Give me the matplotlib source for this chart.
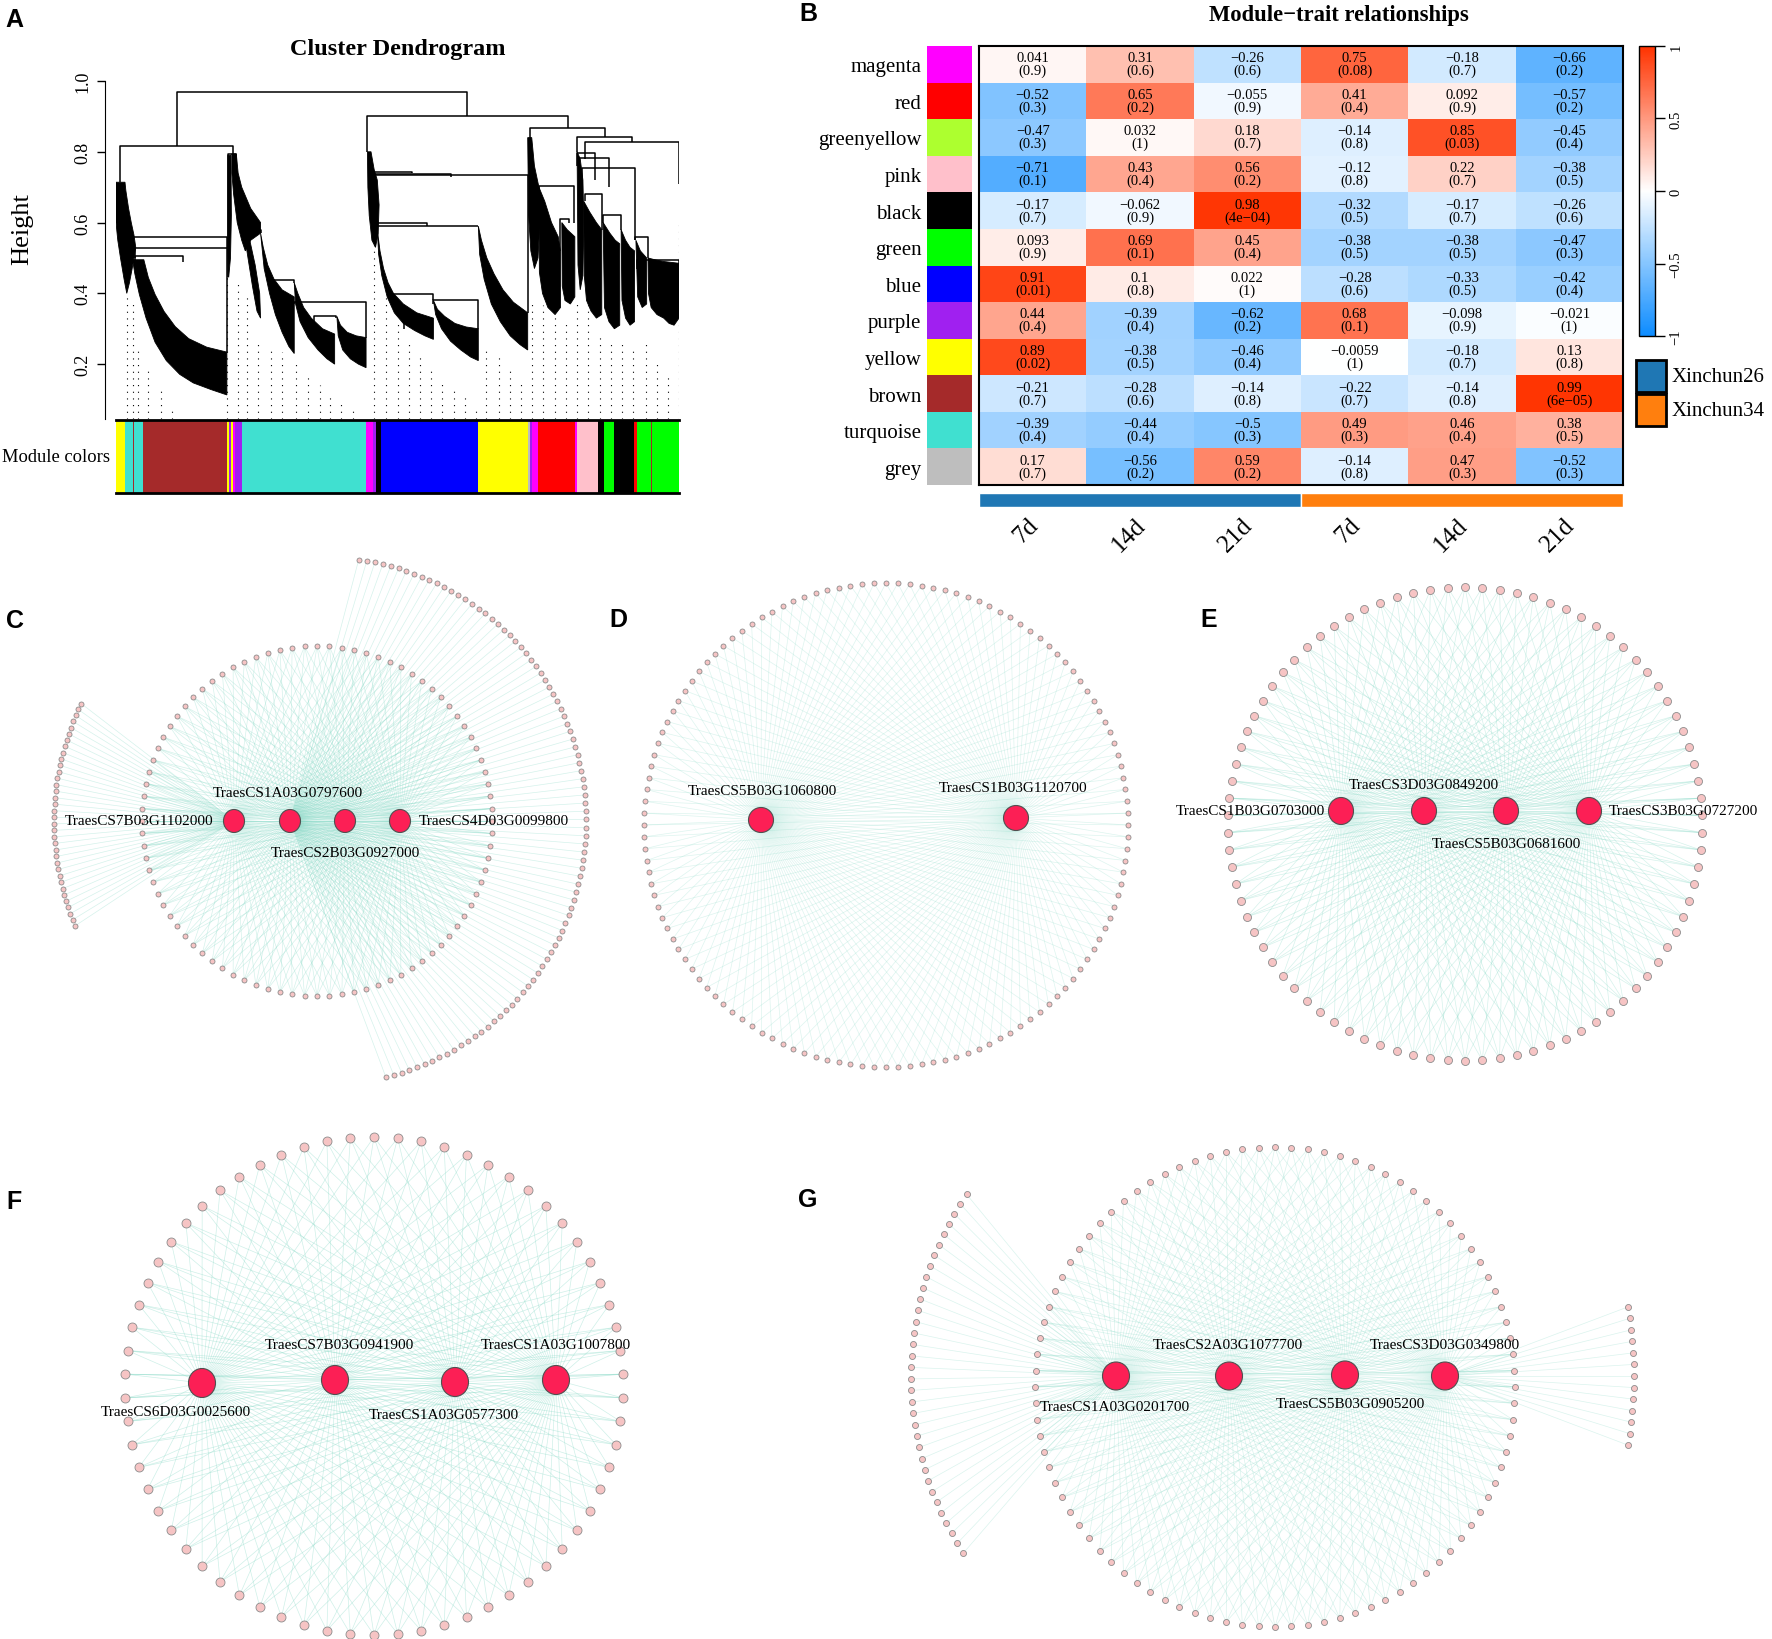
import numpy as np
import matplotlib
matplotlib.use("Agg")
import matplotlib.pyplot as plt
from matplotlib.patches import Polygon, Ellipse, Rectangle
from matplotlib.collections import LineCollection
from matplotlib.colors import LinearSegmentedColormap

plt.rcParams['font.family'] = ['Liberation Serif', 'DejaVu Serif']

# ---------------- A: cluster dendrogram (leaf index 0..1254, height) ----------------
n_leaves = 1254
# (left leaf, right leaf, merge height, left child height, right child height)
tree_links = [
    (135, 782, 0.969, 0.815, 0.902),
    (10, 260, 0.815, 0.714, 0.794),
    (560, 1007, 0.902, 0.80, 0.866),
    (922, 1089, 0.866, 0.84, 0.842),
    (1027, 1150, 0.842, 0.80, 0.828),
    (1044, 1254, 0.828, 0.78, 0.71),
    (250, 268, 0.794, 0.445, 0.76),
    (32, 247, 0.559, 0.54, 0.527),
    (42, 247, 0.527, 0.50, 0.234),
    (42, 150, 0.506, 0.49, 0.49),
    (287, 322, 0.58, 0.56, 0.57),
    (347, 397, 0.437, 0.42, 0.43),
    (397, 557, 0.375, 0.37, 0.275),
    (442, 490, 0.335, 0.32, 0.33),
    (572, 660, 0.744, 0.73, 0.74),
    (572, 747, 0.737, 0.73, 0.73),
    (572, 917, 0.734, 0.72, 0.345),
    (580, 692, 0.60, 0.58, 0.59),
    (580, 807, 0.59, 0.58, 0.59),
    (612, 707, 0.397, 0.39, 0.38),
    (707, 807, 0.38, 0.37, 0.30),
    (642, 677, 0.315, 0.30, 0.30),
    (942, 1020, 0.703, 0.68, 0.60),
    (990, 1010, 0.61, 0.52, 0.60),
    (1027, 1067, 0.796, 0.76, 0.72),
    (1032, 1099, 0.782, 0.74, 0.70),
    (1039, 1157, 0.753, 0.70, 0.55),
    (1044, 1082, 0.68, 0.66, 0.58),
    (1085, 1125, 0.62, 0.60, 0.58),
    (1157, 1185, 0.56, 0.55, 0.50),
    (1160, 1254, 0.493, 0.47, 0.48),
]
# outlines of the dense leaf fans
tree_fans = [
    [(0, 0.714), (20, 0.714), (22, 0.69), (28, 0.64), (34, 0.60), (40, 0.565), (44, 0.53),
     (36, 0.47), (30, 0.43), (24, 0.40), (18, 0.44), (10, 0.50), (4, 0.55), (0, 0.60)],
    [(37, 0.495), (62, 0.495), (72, 0.445), (87, 0.397), (107, 0.349), (132, 0.306), (162, 0.272),
     (202, 0.248), (247, 0.234), (247, 0.113), (212, 0.128), (172, 0.147), (142, 0.171),
     (112, 0.210), (87, 0.262), (67, 0.330), (52, 0.397), (42, 0.455)],
    [(249, 0.79), (256, 0.79), (257, 0.62), (255, 0.50), (251, 0.445), (249, 0.52)],
    [(258, 0.794), (268, 0.794), (272, 0.74), (280, 0.70), (290, 0.67), (300, 0.64), (322, 0.60),
     (322, 0.57), (300, 0.55), (288, 0.52), (280, 0.55), (270, 0.60), (262, 0.68), (258, 0.74)],
    [(288, 0.55), (298, 0.55), (310, 0.48), (320, 0.40), (322, 0.33), (314, 0.35), (304, 0.42), (294, 0.50)],
    [(322, 0.57), (328, 0.53), (338, 0.48), (352, 0.44), (370, 0.41), (397, 0.39), (397, 0.23),
     (385, 0.25), (370, 0.29), (355, 0.34), (342, 0.40), (330, 0.47)],
    [(397, 0.43), (405, 0.40), (418, 0.36), (435, 0.33), (460, 0.30), (487, 0.285), (487, 0.20),
     (470, 0.215), (450, 0.24), (428, 0.275), (410, 0.32), (400, 0.37)],
    [(492, 0.335), (500, 0.31), (515, 0.29), (535, 0.28), (557, 0.275), (557, 0.19), (540, 0.20),
     (522, 0.215), (505, 0.24), (495, 0.28)],
    [(560, 0.80), (568, 0.80), (575, 0.75), (582, 0.72), (586, 0.65), (584, 0.57), (578, 0.53),
     (570, 0.55), (564, 0.62), (561, 0.70)],
    [(582, 0.58), (588, 0.52), (596, 0.47), (606, 0.43), (618, 0.40), (640, 0.37), (670, 0.345),
     (707, 0.33), (707, 0.27), (688, 0.28), (665, 0.295), (640, 0.315), (620, 0.345), (604, 0.39),
     (592, 0.45), (585, 0.51)],
    [(707, 0.38), (716, 0.355), (732, 0.335), (755, 0.315), (780, 0.305), (807, 0.30), (807, 0.21),
     (790, 0.22), (768, 0.24), (745, 0.265), (725, 0.30), (712, 0.34)],
    [(807, 0.59), (814, 0.55), (826, 0.50), (842, 0.455), (862, 0.41), (885, 0.375), (917, 0.345),
     (917, 0.24), (900, 0.255), (878, 0.28), (856, 0.32), (836, 0.37), (820, 0.44), (810, 0.51)],
    [(917, 0.84), (926, 0.84), (932, 0.76), (942, 0.70), (944, 0.60), (940, 0.50), (932, 0.47),
     (924, 0.52), (919, 0.62)],
    [(942, 0.70), (955, 0.66), (970, 0.60), (985, 0.56), (990, 0.52), (990, 0.36), (978, 0.34),
     (962, 0.36), (950, 0.40), (943, 0.46)],
    [(993, 0.60), (1005, 0.58), (1022, 0.56), (1022, 0.39), (1012, 0.37), (1000, 0.38), (994, 0.42)],
    [(1027, 0.80), (1034, 0.78), (1040, 0.72), (1042, 0.60), (1040, 0.45), (1034, 0.41), (1029, 0.48)],
    [(1042, 0.66), (1055, 0.63), (1070, 0.60), (1082, 0.58), (1082, 0.34), (1070, 0.33), (1058, 0.35),
     (1048, 0.38), (1043, 0.45)],
    [(1085, 0.60), (1100, 0.57), (1112, 0.55), (1122, 0.54), (1122, 0.31), (1110, 0.30), (1098, 0.32),
     (1088, 0.36)],
    [(1125, 0.58), (1135, 0.55), (1145, 0.53), (1155, 0.52), (1155, 0.32), (1145, 0.31), (1135, 0.33),
     (1127, 0.38)],
    [(1158, 0.55), (1168, 0.52), (1182, 0.50), (1182, 0.37), (1172, 0.36), (1162, 0.39)],
    [(1185, 0.50), (1200, 0.495), (1220, 0.49), (1254, 0.485), (1254, 0.33), (1243, 0.31), (1232, 0.315),
     (1220, 0.33), (1205, 0.34), (1192, 0.36), (1186, 0.40)],
]
# hanging single leaves (dotted)
leaf_x = [25, 38, 50, 72, 100, 125, 247, 272, 292, 317, 345, 370, 402, 427, 454, 477, 502, 527,
          575, 602, 627, 652, 677, 702, 727, 752, 777, 802, 825, 852, 877, 902,
          927, 952, 977, 1002, 1027, 1052, 1077, 1102, 1127, 1152, 1180, 1204, 1229, 1254]
leaf_top = [0.397, 0.378, 0.243, 0.190, 0.123, 0.075, 0.445, 0.436, 0.397, 0.272, 0.243, 0.234,
            0.205, 0.176, 0.142, 0.109, 0.089, 0.070, 0.537, 0.426, 0.320, 0.272, 0.224, 0.195,
            0.157, 0.138, 0.109, 0.070, 0.243, 0.224, 0.195, 0.157, 0.378, 0.368, 0.339, 0.320,
            0.378, 0.368, 0.282, 0.272, 0.267, 0.243, 0.272, 0.205, 0.176, 0.599]
module_start = [0, 20, 38, 40, 60, 247, 252, 256, 261, 266, 280, 557, 572, 578, 590, 807, 917,
                922, 927, 939, 1022, 1027, 1074, 1087, 1110, 1154, 1160, 1192, 1194]
module_color = ['yellow', 'turquoise', 'brown', 'turquoise', 'brown', 'yellow', 'purple', 'yellow',
                'magenta', 'purple', 'turquoise', 'magenta', 'purple', 'black', 'blue', 'yellow',
                'grey', 'purple', 'magenta', 'red', 'magenta', 'pink', 'black', 'green', 'black',
                'red', 'green', 'brown', 'green']

# ---------------- B: module-trait relationships ----------------
modules = ['magenta', 'red', 'greenyellow', 'pink', 'black', 'green', 'blue', 'purple',
           'yellow', 'brown', 'turquoise', 'grey']
traits = ['7d', '14d', '21d', '7d', '14d', '21d']
cultivars = ['Xinchun26', 'Xinchun34']
cor = [
    [0.041, 0.31, -0.26, 0.75, -0.18, -0.66],
    [-0.52, 0.65, -0.055, 0.41, 0.092, -0.57],
    [-0.47, 0.032, 0.18, -0.14, 0.85, -0.45],
    [-0.71, 0.43, 0.56, -0.12, 0.22, -0.38],
    [-0.17, -0.062, 0.98, -0.32, -0.17, -0.26],
    [0.093, 0.69, 0.45, -0.38, -0.38, -0.47],
    [0.91, 0.1, 0.022, -0.28, -0.33, -0.42],
    [0.44, -0.39, -0.62, 0.68, -0.098, -0.021],
    [0.89, -0.38, -0.46, -0.0059, -0.18, 0.13],
    [-0.21, -0.28, -0.14, -0.22, -0.14, 0.99],
    [-0.39, -0.44, -0.5, 0.49, 0.46, 0.38],
    [0.17, -0.56, 0.59, -0.14, 0.47, -0.52],
]
pval = [
    ['0.9', '0.6', '0.6', '0.08', '0.7', '0.2'],
    ['0.3', '0.2', '0.9', '0.4', '0.9', '0.2'],
    ['0.3', '1', '0.7', '0.8', '0.03', '0.4'],
    ['0.1', '0.4', '0.2', '0.8', '0.7', '0.5'],
    ['0.7', '0.9', '4e-04', '0.5', '0.7', '0.6'],
    ['0.9', '0.1', '0.4', '0.5', '0.5', '0.3'],
    ['0.01', '0.8', '1', '0.6', '0.5', '0.4'],
    ['0.4', '0.4', '0.2', '0.1', '0.9', '1'],
    ['0.02', '0.5', '0.4', '1', '0.7', '0.8'],
    ['0.7', '0.6', '0.8', '0.7', '0.8', '6e-05'],
    ['0.4', '0.4', '0.3', '0.3', '0.4', '0.5'],
    ['0.7', '0.2', '0.2', '0.8', '0.3', '0.3'],
]

# ---------------- C-G: hub gene networks ----------------
hubs_C = ['TraesCS7B03G1102000', 'TraesCS1A03G0797600', 'TraesCS2B03G0927000', 'TraesCS4D03G0099800']
nodes_C = [88, 36, 90]          # inner ring, left arc, right arc
hubs_D = ['TraesCS5B03G1060800', 'TraesCS1B03G1120700']
nodes_D = [128]
hubs_E = ['TraesCS1B03G0703000', 'TraesCS3D03G0849200', 'TraesCS5B03G0681600', 'TraesCS3B03G0727200']
nodes_E = [86]
hubs_F = ['TraesCS6D03G0025600', 'TraesCS7B03G0941900', 'TraesCS1A03G0577300', 'TraesCS1A03G1007800']
nodes_F = [66]
hubs_G = ['TraesCS1A03G0201700', 'TraesCS2A03G1077700', 'TraesCS5B03G0905200', 'TraesCS3D03G0349800']
nodes_G = [92, 34, 13]          # inner ring, left arc, right arc

R_COL = {'yellow': '#FFFF00', 'turquoise': '#40E0D0', 'brown': '#A52A2A', 'purple': '#A020F0',
         'magenta': '#FF00FF', 'black': '#000000', 'blue': '#0000FF', 'grey': '#BEBEBE',
         'red': '#FF0000', 'pink': '#FFC0CB', 'green': '#00FF00', 'greenyellow': '#ADFF2F'}

W, H = 1772, 1640
fig = plt.figure(figsize=(W / 100, H / 100), dpi=100)


def px_axes(x0, y0, x1, y1):
    return fig.add_axes([x0 / W, 1 - y1 / H, (x1 - x0) / W, (y1 - y0) / H])


ov = fig.add_axes([0, 0, 1, 1])
ov.set_xlim(0, W)
ov.set_ylim(H, 0)
ov.axis('off')

# ---- A ----
ax = px_axes(116, 82, 679, 420)
segs = [[(xl, hl), (xl, h), (xr, h), (xr, hr)] for xl, xr, h, hl, hr in tree_links]
ax.add_collection(LineCollection(segs, colors='black', linewidths=1.1))
for fan in tree_fans:
    ax.add_patch(Polygon(fan, closed=True, fc='black', ec='black', lw=0.6))
ax.vlines(leaf_x, 0.045, leaf_top, colors='black', linewidths=0.8, linestyles=(0, (1, 5)))
ax.set_xlim(0, n_leaves)
ax.set_ylim(0.045, 1.0)
for s in ['top', 'right', 'bottom']:
    ax.spines[s].set_visible(False)
ax.spines['left'].set_position(('outward', 8))
ax.spines['left'].set_bounds(0.045, 1.0)
ax.set_xticks([])
ax.set_yticks([0.2, 0.4, 0.6, 0.8, 1.0])
ax.set_yticklabels(['0.2', '0.4', '0.6', '0.8', '1.0'], rotation=90, va='center', fontsize=13)
ax.tick_params(axis='y', length=6, width=1)
ov.text(22, 229, 'Height', rotation=90, ha='center', va='center', fontsize=19)
ov.text(398, 50, 'Cluster Dendrogram', ha='center', va='center', fontsize=17.5, fontweight='bold')

axm = px_axes(116, 421, 679, 494)
starts = np.array(module_start)
widths = np.diff(np.append(starts, n_leaves))
axm.bar(starts, 1, width=widths, align='edge', color=[R_COL[c] for c in module_color], lw=0)
axm.set_xlim(0, n_leaves)
axm.set_ylim(0, 1)
axm.set_xticks([])
axm.set_yticks([])
for s in ['left', 'right']:
    axm.spines[s].set_visible(False)
for s in ['top', 'bottom']:
    axm.spines[s].set_linewidth(2)
ov.text(110, 457, 'Module colors', ha='right', va='center', fontsize=13.3)

# ---- B ----
cmap = LinearSegmentedColormap.from_list('bwr_wgcna', ['#0D8CFF', '#FFFFFF', '#FF3300'])
axh = px_axes(979, 47, 1623, 486)
mesh = axh.pcolormesh(np.array(cor), cmap=cmap, vmin=-1, vmax=1)
axh.set_xlim(0, len(traits))
axh.set_ylim(len(modules), 0)
axh.set_xticks([])
axh.set_yticks([])
for s in axh.spines.values():
    s.set_linewidth(1.5)
for i in range(len(modules)):
    for j in range(len(traits)):
        txt = ('%g' % cor[i][j]) + '\n(' + pval[i][j] + ')'
        axh.text(j + 0.5, i + 0.5, txt.replace('-', '\u2212'), ha='center', va='center',
                 fontsize=10.5, linespacing=0.95)

axc = px_axes(927, 47, 972, 486)
axc.barh(np.arange(len(modules)), 1, height=1, color=[R_COL[m] for m in modules], lw=0)
axc.set_ylim(len(modules) - 0.5, -0.5)
axc.set_xlim(0, 1)
axc.set_xticks([])
axc.set_yticks(np.arange(len(modules)))
axc.set_yticklabels(modules, fontsize=15)
axc.tick_params(axis='y', length=0, pad=4)
for s in axc.spines.values():
    s.set_visible(False)

axt = px_axes(979, 494, 1623, 508)
axt.bar([0, 3], 1, width=3, align='edge', color=['#1F77B4', '#FF7F0E'], edgecolor='white', lw=1)
axt.set_xlim(0, 6)
axt.set_ylim(0, 1)
axt.axis('off')
cell_w = (1623 - 979) / len(traits)
for j, t in enumerate(traits):
    ov.text(979 + (j + 0.5) * cell_w - 6, 514, t, rotation=45, ha='right', va='top',
            rotation_mode='anchor', fontsize=18)

cax = px_axes(1639, 47, 1655, 337)
cb = fig.colorbar(mesh, cax=cax, ticks=[-1, -0.5, 0, 0.5, 1])
cb.outline.set_linewidth(1)
cax.set_yticklabels(['\u22121', '\u22120.5', '0', '0.5', '1'], rotation=90, va='center', fontsize=10.5)
cax.tick_params(length=7, width=1)

ov.text(1339, 16, 'Module\u2212trait relationships', ha='center', va='center', fontsize=16.3,
        fontweight='bold')
for k, (name, col) in enumerate(zip(cultivars, ['#1F77B4', '#FF7F0E'])):
    ov.add_patch(Rectangle((1636, 361 + 34 * k), 30, 32, fc=col, ec='black', lw=2))
    ov.text(1672, 378 + 34 * k, name, ha='left', va='center', fontsize=15)

# ---- C-G networks ----
EDGE = '#86d9c6'
NODE = '#f6c4c4'
HUB = '#fc1f55'


def ring(cx, cy, r, n, a0=90, a1=None):
    if a1 is None:
        a = a0 + 360.0 * np.arange(n) / n
    else:
        a = np.linspace(a0, a1, n)
    a = np.deg2rad(a)
    return np.column_stack([cx + r * np.cos(a), cy - r * np.sin(a)])


def network(hub_xy, hub_wh, groups, dot, names, label_xy, alpha=0.35):
    hub_xy = np.asarray(hub_xy, float)
    segs, pts = [], []
    for xy, links in groups:
        pts.append(xy)
        for p in xy:
            for k in links:
                segs.append([p, hub_xy[k]])
    ov.add_collection(LineCollection(segs, colors=EDGE, linewidths=0.5, alpha=alpha, zorder=1))
    pts = np.vstack(pts)
    ov.scatter(pts[:, 0], pts[:, 1], s=(dot * 0.72) ** 2, c=NODE, edgecolors='#8c8c8c',
               linewidths=0.6, zorder=3)
    for x, y in hub_xy:
        ov.add_patch(Ellipse((x, y), hub_wh[0], hub_wh[1], fc=HUB, ec='#505050', lw=0.8, zorder=4))
    for name, (x, y, ha) in zip(names, label_xy):
        ov.text(x, y, name, ha=ha, va='center', fontsize=11, zorder=5)


network([(234, 822), (290, 822), (345, 822), (400, 822)], (21, 23),
        [(ring(317, 822, 175, nodes_C[0]), [0, 1, 2, 3]),
         (ring(322, 822, 268, nodes_C[1], 154, 203), [0]),
         (ring(322, 822, 264, nodes_C[2], 82, -76), [1])],
        5, hubs_C, [(213, 822, 'right'), (288, 794, 'center'), (345, 854, 'center'), (419, 822, 'left')])

network([(761, 821), (1016, 819)], (25, 25),
        [(ring(886, 826, 242, nodes_D[0]), [0, 1])],
        5, hubs_D, [(762, 792, 'center'), (1013, 789, 'center')], alpha=0.28)

network([(1341, 812), (1424, 812), (1506, 812), (1589, 812)], (25, 27),
        [(ring(1465, 825, 237, nodes_E[0]), [0, 1, 2, 3])],
        8, hubs_E, [(1325, 812, 'right'), (1424, 786, 'center'), (1506, 845, 'center'), (1609, 812, 'left')])

network([(202, 1384), (335, 1381), (455, 1383), (556, 1381)], (27, 29),
        [(ring(374, 1387, 249, nodes_F[0]), [0, 1, 2, 3])],
        9, hubs_F, [(176, 1413, 'center'), (339, 1346, 'center'), (444, 1416, 'center'), (556, 1346, 'center')],
        alpha=0.4)

network([(1116, 1377), (1229, 1377), (1345, 1376), (1445, 1377)], (27, 28),
        [(ring(1275, 1388, 240, nodes_G[0]), [0, 1, 2, 3]),
         (ring(1236, 1377, 325, nodes_G[1], 146, 213), [0]),
         (ring(1236, 1377, 398, nodes_G[2], 10, -10), [3])],
        6, hubs_G, [(1115, 1408, 'center'), (1228, 1346, 'center'), (1350, 1405, 'center'), (1445, 1346, 'center')],
        alpha=0.3)

for lab, x, y in [('A', 14, 20), ('B', 808, 14), ('C', 15, 621), ('D', 618, 620),
                  ('E', 1209, 620), ('F', 14, 1202), ('G', 808, 1200)]:
    ov.text(x, y, lab, ha='center', va='center', fontsize=18, fontweight='bold',
            family=['Liberation Sans', 'DejaVu Sans'])

fig.savefig('out.png', dpi=100)
